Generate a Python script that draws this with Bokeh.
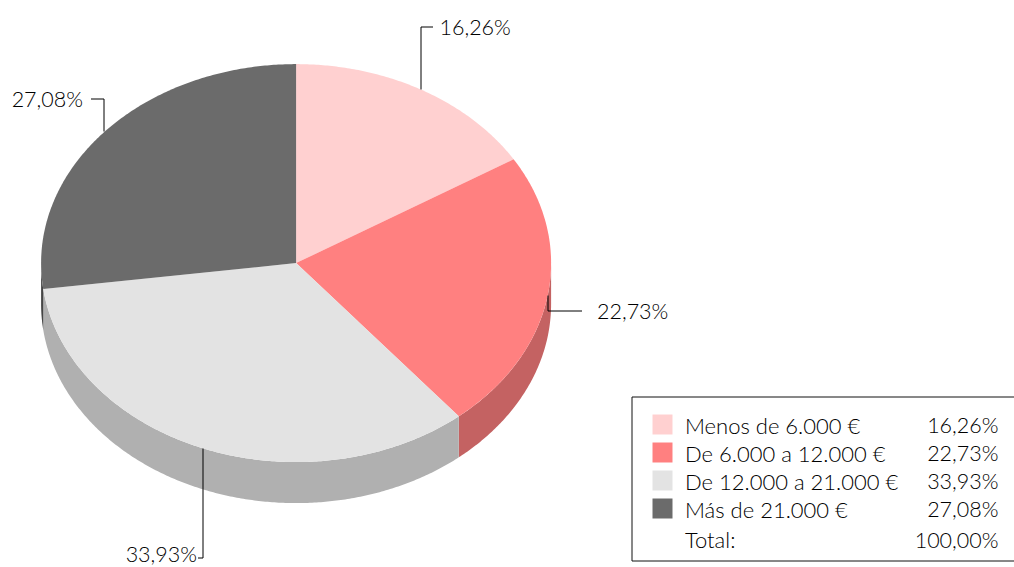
import math
from bokeh.plotting import figure
from bokeh.models import Range1d
from bokeh.core.properties import value
from bokeh.embed import file_html
from bokeh.resources import INLINE

categories = ["Menos de 6.000 €", "De 6.000 a 12.000 €", "De 12.000 a 21.000 €", "Más de 21.000 €"]
shares = [16.26, 22.73, 33.93, 27.08]
total_label = "Total:"
total_value = "100,00%"
top_colors = ["#FFD0D0", "#FF8080", "#E3E3E3", "#6B6B6B"]
side_colors = ["#C9A6A6", "#C46262", "#B0B0B0", "#454545"]

CX, CY, RX, RY, DEPTH = 295.6, 262.6, 255, 199, 41
FONT = "Lato Light"
FSIZE = "21.5px"
LEGEND_SIZE = "22px"
TEXT = "#000000"
LABEL_MAX_Y = 553.5


def pt(deg, dy=0):
    a = math.radians(deg)
    return CX + RX * math.sin(a), CY - RY * math.cos(a) + dy


def arc(a0, a1, dy=0):
    n = max(2, int(abs(a1 - a0)) * 2)
    return [pt(a0 + (a1 - a0) * i / n, dy) for i in range(n + 1)]


def fmt(v):
    return f"{v:.2f}".replace(".", ",") + "%"


p = figure(width=1014, height=567, output_backend="svg", toolbar_location=None,
           x_range=Range1d(0, 1014), y_range=Range1d(567, 0),
           min_border=0, outline_line_color=None, x_axis_type=None, y_axis_type=None)
p.grid.visible = False
p.background_fill_color = None
p.border_fill_color = None

angles = [0]
for s in shares:
    angles.append(angles[-1] + s * 3.6)

for i in range(4):
    a0, a1 = max(angles[i], 90), min(angles[i + 1], 270)
    if a1 <= a0:
        continue
    pts = arc(a0, a1) + arc(a1, a0, DEPTH)
    p.patch([q[0] for q in pts], [q[1] for q in pts], fill_color=side_colors[i], line_color=None)

for i in range(4):
    pts = [(CX, CY)] + arc(angles[i], angles[i + 1])
    p.patch([q[0] for q in pts], [q[1] for q in pts], fill_color=top_colors[i], line_color=None)

mids = [(angles[i] + angles[i + 1]) / 2 for i in range(4)]
leaders = [(-63, 12), (14.5, 34), (109, -5), (-33, -13)]
label_gap = [6.5, 15, -1, -8]
for i in range(4):
    x0, y0 = pt(mids[i])
    x0, y0 = math.floor(x0) + 0.5, round(y0)
    dy, dx = leaders[i]
    y1 = round(y0 + dy) + 0.5
    p.line([x0, x0, x0 + dx], [y0, y1, y1], line_color="#000000", line_width=1)
    right = dx < 0
    p.text([x0 + dx + label_gap[i]], [min(y1, LABEL_MAX_Y)], text=[fmt(shares[i])],
           text_font=value(FONT), text_font_size=FSIZE, text_color=TEXT,
           text_align="right" if right else "left", text_baseline="middle")

p.line([1014, 631.5, 631.5, 1014], [396.5, 396.5, 560.5, 560.5], line_color="#111111", line_width=1)
row_y = [424.5, 452.5, 480.5, 508.5]
p.rect([662] * 4, [424, 452, 480, 508], width=20, height=20,
       fill_color=top_colors, line_color=None)
p.text([684.5] * 4, row_y, text=categories, text_font=value(FONT), text_font_size=LEGEND_SIZE,
       text_color=TEXT, text_baseline="middle")
p.text([998] * 4, row_y, text=[fmt(s) for s in shares], text_font=value(FONT), text_font_size=FSIZE,
       text_color=TEXT, text_align="right", text_baseline="middle")
p.text([684.5], [539], text=[total_label], text_font=value(FONT), text_font_size=LEGEND_SIZE,
       text_color=TEXT, text_baseline="middle")
p.text([998], [539], text=[total_value], text_font=value(FONT), text_font_size=FSIZE,
       text_color=TEXT, text_align="right", text_baseline="middle")

open("out.html", "w").write(file_html(p, INLINE))
